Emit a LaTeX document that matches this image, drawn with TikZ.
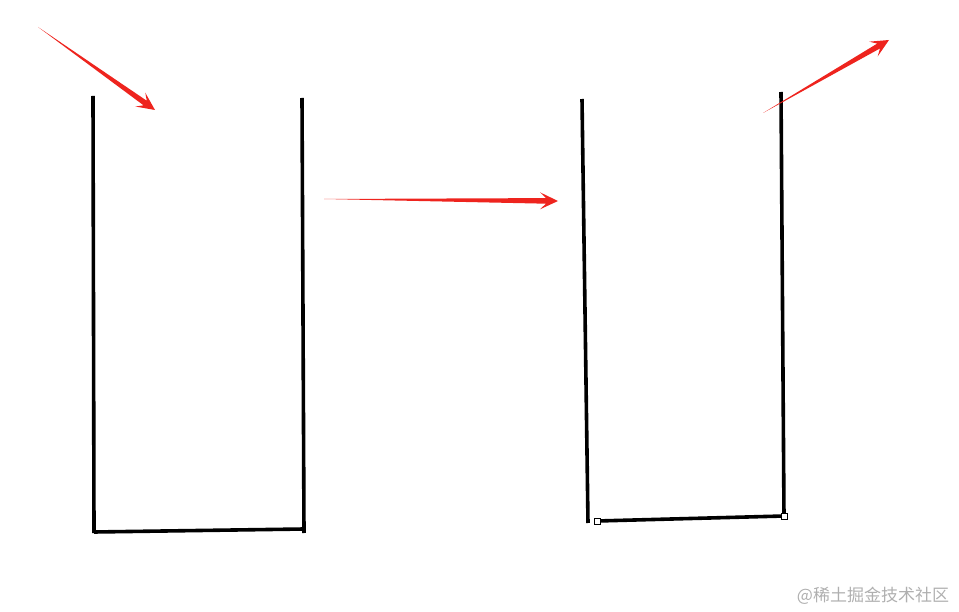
\documentclass[tikz,border=0pt]{standalone}
\usepackage{fontspec}
\newfontfamily\cjk{Noto Sans CJK SC}
\usetikzlibrary{calc}
\definecolor{arrowred}{RGB}{238,36,30}
\definecolor{wmgray}{RGB}{175,175,175}
\newcommand\redarrow[3]{%
  \coordinate (#1h) at ($(#3)!12pt!(#2)$);
  \coordinate (#1b) at ($(#3)!18pt!(#2)$);
  \fill[arrowred] (#2) -- ($(#1h)!2.8pt!90:(#3)$) -- ($(#1b)!8.5pt!90:(#3)$) -- (#3)
    -- ($(#1b)!8.5pt!-90:(#3)$) -- ($(#1h)!2.8pt!-90:(#3)$) -- cycle;}
\begin{document}
\begin{tikzpicture}[x=1pt,y=-1pt,
  wall/.style={line width=3.6pt,black},
  joint/.style={draw=black,fill=white,line width=0.8pt,minimum size=6pt,inner sep=0pt,outer sep=0pt}]
\useasboundingbox (0,0) rectangle (959,612);
% left cup
\coordinate (L1t) at (93,96);
\coordinate (L1b) at (94,533);
\coordinate (R1t) at (302,98);
\coordinate (R1b) at (304,533);
\draw[wall] (L1t) -- (L1b);
\draw[wall] (R1t) -- (R1b);
\draw[wall] ($(L1b)+(0,-1)$) -- ($(R1b)+(0,-4)$);
% right cup
\coordinate (L2t) at (582,99);
\coordinate (L2b) at (588,523);
\coordinate (R2t) at (781,92);
\coordinate (R2b) at (784,517);
\draw[wall] (L2t) -- (L2b);
\draw[wall] (R2t) -- (R2b);
\node[joint] (j1) at (597,521) {};
\node[joint] (j2) at (784,516) {};
\draw[wall] (j1) -- (j2);
\node[joint] at (597,521) {};
\node[joint] at (784,516) {};
% arrows
\coordinate (a1s) at (38,27);
\coordinate (a1e) at (155,110);
\coordinate (a2s) at (324,199);
\coordinate (a2e) at (558,201);
\coordinate (a3s) at (763,113);
\coordinate (a3e) at (889,40);
\redarrow{a1}{a1s}{a1e}
\redarrow{a2}{a2s}{a2e}
\redarrow{a3}{a3s}{a3e}
% watermark
\node[text=wmgray,font=\cjk\fontsize{17}{19}\selectfont,inner sep=0pt] (wm) at (873,596) {@稀土掘金技术社区};
\end{tikzpicture}
\end{document}
